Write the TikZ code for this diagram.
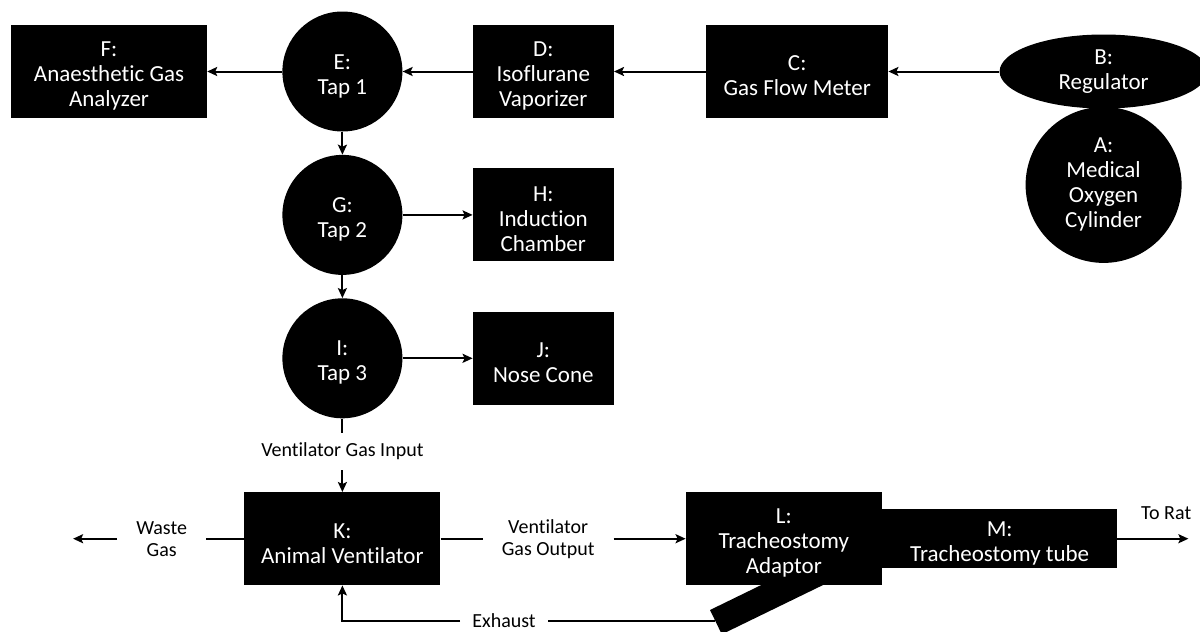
\documentclass[tikz,border=0pt]{standalone}
\usepackage{fontspec}
\setmainfont{Carlito}[Ligatures=NoCommon]
\usetikzlibrary{arrows.meta, positioning, shapes.geometric}
\newcommand*{\boxfont}{\fontsize{23}{25}\selectfont}
\newcommand*{\lblfont}{\fontsize{20}{22}\selectfont}
\newcommand*{\lift}{\rule{0pt}{24pt}}
\tikzstyle{unit} = [fill=black, text=white, align=center, font=\boxfont, inner sep=0pt]
\tikzstyle{box} = [unit, rectangle, minimum height=93pt]
\tikzstyle{tap} = [unit, circle, minimum size=120pt]
\tikzstyle{lbl} = [align=center, font=\lblfont, inner xsep=19pt, inner ysep=10pt]
\tikzstyle{pipe} = [line width=2pt]
\tikzstyle{flow} = [pipe, -{Stealth[length=10pt, width=9pt, inset=2pt]}]
\begin{document}
\begin{tikzpicture}[x=1pt, y=-1pt]
    \useasboundingbox (0,0) rectangle (1200,632);

    % Exhaust port of the adaptor.
    \fill (710,610) -- (721.8,634.3) -- (838.7,577.4) -- (826.9,553) -- cycle;
    \coordinate (port) at (715,621);

    % Gas supply row.
    \node (F) [box, minimum width=196pt] at (109,71.5) {\lift F:\\Anaesthetic Gas\\Analyzer};
    \node (E) [tap, right=75pt of F] {\lift E:\\Tap 1};
    \node (D) [box, minimum width=141pt, right=70pt of E] {\lift D:\\Isoflurane\\Vaporizer};
    \node (C) [box, minimum width=182pt, right=92pt of D] {\lift C:\\Gas Flow Meter};
    \node (B) [unit, ellipse, minimum width=208pt, minimum height=74pt, right=111pt of C] {B:\\Regulator};
    \node (A) [unit, circle, minimum size=156pt, below=-2pt of B] {A:\\Medical\\Oxygen\\Cylinder};

    % Taps and outlets.
    \node (G) [tap, below=23pt of E] {\lift G:\\Tap 2};
    \node (I) [tap, below=23pt of G] {\lift I:\\Tap 3};
    \node (H) [box, minimum width=141pt, right=70pt of G] {\lift H:\\Induction\\Chamber};
    \node (J) [box, minimum width=141pt, right=70pt of I] {\lift J:\\Nose Cone};

    % Ventilator line.
    \node (gasin) [lbl, below=14pt of I] {Ventilator Gas Input};
    \node (K) [box, minimum width=196pt, below=22pt of gasin] {\lift K:\\Animal Ventilator};
    \node (waste) [lbl, left=38pt of K] {Waste\\Gas};
    \node (gasout) [lbl, right=42pt of K] {Ventilator\\Gas Output};
    \node (L) [box, minimum width=196pt, right=245pt of K] {\lift L:\\Tracheostomy\\Adaptor};
    \node (M) [box, minimum width=235pt, minimum height=59pt, right=0pt of L] {\lift M:\\Tracheostomy tube};
    \coordinate [left=44pt of waste] (dump);
    \coordinate [right=71pt of M] (rat);
    \node (ratlbl) [lbl, inner sep=0pt, anchor=south east] at ([shift={(3,-19)}]rat) {To Rat};
    \node (exh) [lbl, inner xsep=12pt] at (504,621) {Exhaust};

    % Arrows.
    \foreach \a/\b in {B/C, C/D, D/E, E/F, E/G, G/I, G/H, I/J} {
        \draw [flow] (\a) -- (\b);
    }
    \draw [pipe] (I) -- (gasin);
    \draw [flow] (gasin) -- (K);
    \draw [pipe] (K) -- (waste);
    \draw [flow] (waste) -- (dump);
    \draw [pipe] (K) -- (gasout);
    \draw [flow] (gasout) -- (L);
    \draw [flow] (M) -- (rat);
    \draw [pipe] (port) -- (exh);
    \draw [flow] (exh.west) -| (K);
\end{tikzpicture}
\end{document}
